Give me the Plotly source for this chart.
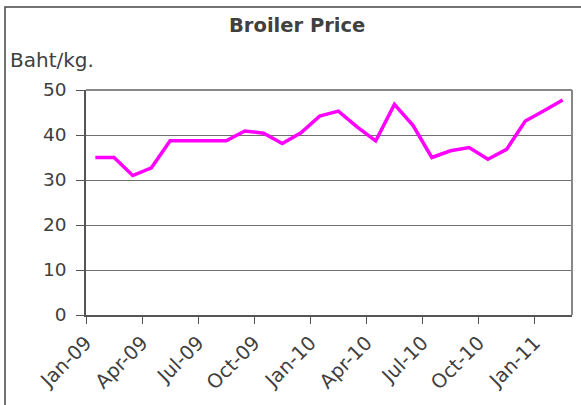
import plotly.graph_objects as go

months = ["Jan-09","Feb-09","Mar-09","Apr-09","May-09","Jun-09","Jul-09","Aug-09","Sep-09",
          "Oct-09","Nov-09","Dec-09","Jan-10","Feb-10","Mar-10","Apr-10","May-10","Jun-10",
          "Jul-10","Aug-10","Sep-10","Oct-10","Nov-10","Dec-10","Jan-11","Feb-11"]
price = [35.0, 35.0, 31.0, 32.7, 38.7, 38.7, 38.7, 38.7, 40.9, 40.4, 38.1, 40.5, 44.2,
         45.3, 41.8, 38.7, 46.8, 42.1, 35.0, 36.5, 37.2, 34.6, 36.8, 43.1, 45.4, 47.8]
tick_labels = ["Jan-09","Apr-09","Jul-09","Oct-09","Jan-10","Apr-10","Jul-10","Oct-10","Jan-11"]
y_ticks = [0, 10, 20, 30, 40, 50]

x_idx = list(range(len(months)))
tick_pos = [months.index(t) - 0.5 for t in tick_labels]

TXT = "#404040"
FONT = "DejaVu Sans"

fig = go.Figure()
fig.add_trace(go.Scatter(x=x_idx, y=price, mode="lines",
                         line=dict(color="#FF00FF", width=3.5),
                         text=months, hoverinfo="text+y"))

# plot area geometry (px)
L, R, T, B = 86, 572, 90, 315
W, H = 581, 405
def px_x(p): return (p - L) / (R - L)
def px_y(p): return (B - p) / (B - T)

fig.update_layout(
    width=W, height=H,
    margin=dict(l=L, r=W - R, t=T, b=H - B),
    paper_bgcolor="white", plot_bgcolor="white",
    showlegend=False,
    font=dict(family=FONT, color=TXT, size=18),
    xaxis=dict(range=[-0.5, len(months) - 0.5], tickmode="array",
               tickvals=tick_pos, ticktext=tick_labels, tickangle=-45,
               showgrid=False, zeroline=False, showline=True,
               linecolor="#555555", linewidth=1.5,
               ticks="outside", ticklen=7, tickcolor="#555555", tickwidth=1,
               tickfont=dict(size=19.5, color=TXT, family=FONT)),
    yaxis=dict(range=[0, 50], tickmode="array", tickvals=y_ticks,
               showgrid=True, gridcolor="#707070", gridwidth=1.2,
               zeroline=False, showline=True, linecolor="#555555", linewidth=1.5,
               ticks="outside", ticklen=8, tickcolor="#555555", tickwidth=1,
               ticklabelstandoff=6,
               tickfont=dict(size=18.5, color=TXT, family=FONT)),
    shapes=[
        dict(type="line", xref="paper", yref="paper", x0=0, x1=1, y0=1, y1=1,
             line=dict(color="#888888", width=2)),
        dict(type="line", xref="paper", yref="paper", x0=1, x1=1, y0=0, y1=1,
             line=dict(color="#888888", width=2)),
        dict(type="rect", xref="paper", yref="paper",
             x0=px_x(5), x1=px_x(590), y0=px_y(415), y1=px_y(7),
             line=dict(color="#444444", width=1.5)),
    ],
    annotations=[
        dict(text="<b>Broiler Price</b>", xref="paper", yref="paper",
             x=px_x(297), y=px_y(26), xanchor="center", yanchor="middle",
             showarrow=False, font=dict(size=19.5, color=TXT, family=FONT)),
        dict(text="Baht/kg.", xref="paper", yref="paper",
             x=px_x(8), y=px_y(60), xanchor="left", yanchor="middle",
             showarrow=False, font=dict(size=20, color=TXT, family=FONT)),
    ],
)

fig.write_html("out.html", config={"displayModeBar": False},
               post_script="document.body.style.margin='0';document.body.style.overflow='hidden';")
